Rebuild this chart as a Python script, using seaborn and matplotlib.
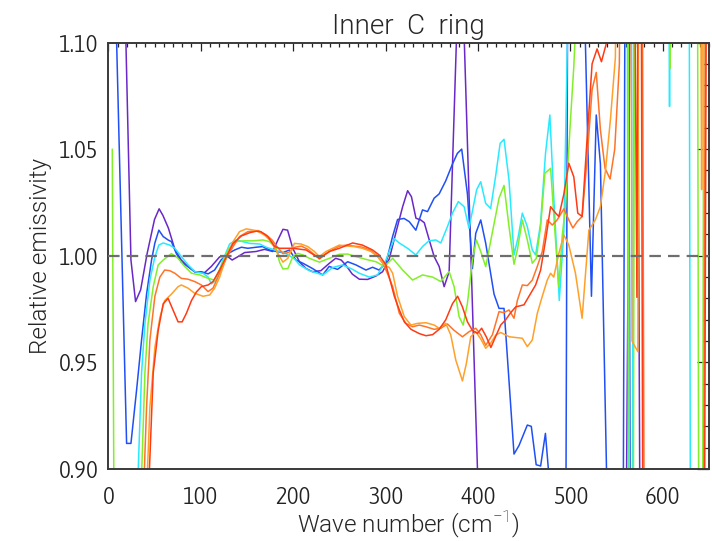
import numpy as np
import pandas as pd
import matplotlib
matplotlib.use("Agg")
import matplotlib.pyplot as plt
from matplotlib.ticker import MultipleLocator, FormatStrFormatter
import seaborn as sns

# ---- spectra: relative emissivity vs wave number (cm^-1) ----
purple_x = [0, 18, 24.5, 29.5, 35, 42, 50, 55, 59, 65, 72, 79, 86, 93.5, 104, 111.5, 120.5, 128, 134, 140,
            147.5, 160, 169, 178, 183.5, 189, 194, 199.6, 207, 214, 221, 230, 239, 246, 252, 257, 264, 271.6,
            280.6, 289.6, 296.8, 304, 311, 318.5, 323.9, 328, 332.9, 338, 341.9, 347.3, 352.6, 358, 363.4,
            368.8, 381, 403, 560, 566, 572, 575.5, 650]
purple_y = [1.30, 1.12, 0.998, 0.9785, 0.984, 1.001, 1.017, 1.022, 1.019, 1.013, 1.003, 0.998, 0.995, 0.9925,
            0.992, 0.995, 0.9995, 1.000, 0.998, 0.9995, 1.0015, 1.002, 1.003, 1.002, 1.0074, 1.0124, 1.012,
            1.0035, 0.997, 0.994, 0.9925, 0.993, 0.9964, 0.9988, 0.998, 0.9956, 0.9914, 0.989, 0.9889, 0.9905,
            0.9925, 0.9985, 1.0105, 1.023, 1.0305, 1.0277, 1.0176, 1.0168, 1.0155, 1.0074, 0.9996, 0.995,
            0.9855, 0.9925, 1.16, 0.85, 0.85, 1.2, 1.2, 0.85, 0.85]

blue_x = [0, 5, 19.8, 24.5, 30.6, 36, 41.4, 46.8, 50.4, 54.7, 59.4, 64.7, 68.3, 73.7, 79, 86, 93.5, 100.7, 108,
          115, 122, 129.5, 136.7, 144, 151, 160, 167, 174.5, 181.7, 189, 196, 203, 210.5, 221, 232, 239, 248,
          259, 268, 278.8, 286, 293, 300.4, 307.6, 313, 320, 325.6, 332.8, 340, 345.4, 352.6, 358, 365, 372.4,
          377.7, 382.4, 388.6, 394, 397.6, 403, 408.4, 417.4, 422.8, 428.2, 431.8, 439, 444.4, 453.4, 457.7,
          463, 467.8, 473, 480, 495, 498, 508, 522.8, 528, 532.5, 540, 557, 560, 562, 565, 650]
blue_y = [1.30, 1.17, 0.912, 0.912, 0.937, 0.9605, 0.982, 0.998, 1.006, 1.012, 1.009, 1.0074, 1.0066, 1.001,
          0.997, 0.995, 0.9925, 0.9925, 0.9915, 0.9933, 0.998, 1.001, 1.0027, 1.004, 1.0035, 1.004, 1.0043,
          1.0027, 1.002, 1.0015, 1.0027, 0.998, 0.9965, 0.994, 0.991, 0.995, 0.9936, 0.9972, 0.9957, 0.9933,
          0.9946, 0.9933, 0.9965, 1.009, 1.017, 1.0175, 1.016, 1.012, 1.0215, 1.0207, 1.027, 1.029, 1.035,
          1.043, 1.048, 1.050, 1.029, 0.994, 1.0105, 1.0168, 1.0058, 0.982, 0.9753, 0.9753, 0.9527, 0.907,
          0.911, 0.9206, 0.920, 0.902, 0.9014, 0.9167, 0.88, 0.86, 1.25, 1.25, 0.981, 1.066, 1.043, 0.88,
          0.85, 1.25, 1.25, 0.85, 0.85]

cyan_x = [0, 30, 36, 39.6, 45, 50.4, 54.7, 59.4, 66.5, 72, 79, 86.3, 93.5, 102.5, 108, 111.5, 117, 124, 131.3,
          138.5, 145.7, 152.9, 163.7, 170.9, 178, 185.3, 192.5, 201.5, 207, 217.7, 232, 243, 253.6, 264.4,
          271.6, 282.4, 291.4, 300.4, 309.4, 314.8, 323.8, 332.8, 340, 347, 354.4, 359.8, 367, 372.4, 378.8,
          385, 390.3, 398.6, 403, 408.3, 413.7, 419, 424, 428.2, 433.6, 439, 443.6, 448, 453.4, 458.8, 462.4,
          467.7, 473.1, 477.8, 482, 488, 493, 498, 505, 561, 563, 567, 569, 605, 607.3, 609.5, 628, 630, 650]
cyan_y = [0.80, 0.87, 0.945, 0.968, 0.9886, 0.9995, 1.005, 1.006, 1.005, 1.0035, 0.9996, 0.9957, 0.9926,
          0.9918, 0.990, 0.9868, 0.9886, 0.998, 1.0055, 1.0074, 1.0066, 1.0058, 1.0055, 1.004, 1.003, 1.002,
          1.001, 0.9985, 0.9957, 0.993, 0.991, 0.9945, 0.9957, 0.9936, 0.9918, 0.990, 0.991, 0.998, 1.008,
          1.006, 1.0035, 1.0004, 1.0043, 1.007, 1.0074, 1.006, 1.0137, 1.020, 1.0254, 1.023, 1.0129, 1.031,
          1.0347, 1.0246, 1.0222, 1.037, 1.0527, 1.0546, 1.0355, 1.0004, 1.009, 1.020, 1.0137, 1.0027,
          1.0004, 1.015, 1.048, 1.066, 1.0277, 0.979, 1.012, 1.13, 1.25, 1.25, 0.85, 0.85, 1.25, 1.25, 1.070,
          1.25, 1.25, 0.85, 0.85]

green_x = [4.3, 7, 31, 39.6, 43, 48.6, 54, 59.4, 68.3, 75.5, 82.7, 90, 99, 108, 115, 122, 129.5, 136.7, 147.5,
           156.5, 167.3, 174.5, 181.7, 185.3, 188.9, 194.3, 199.7, 205, 210.5, 217.6, 228.4, 239.2, 250, 259,
           268, 278.8, 289.6, 298.7, 307.7, 318.5, 329.3, 340, 350.9, 359.8, 368.8, 374.2, 379.6, 384, 388.6,
           394, 398.3, 403, 408.4, 417.4, 422.8, 428.2, 433.6, 439, 442.6, 448, 453.4, 458.8, 463.1, 467.8,
           472.4, 478.6, 482.9, 487.5, 491.1, 494.7, 500.1, 503.7, 508, 512, 562, 564, 568, 570, 606, 608, 610,
           637, 639, 643, 645, 650]
green_y = [1.05, 0.80, 0.83, 0.945, 0.968, 0.9855, 0.9957, 0.998, 1.001, 0.9988, 0.995, 0.9918, 0.991, 0.9894,
           0.9886, 0.995, 1.0027, 1.0066, 1.007, 1.007, 1.0074, 1.0066, 1.0035, 0.997, 0.9938, 0.994, 0.9996,
           1.0011, 1.0004, 0.9988, 0.997, 0.9988, 1.0007, 1.0008, 0.9996, 0.9983, 0.9972, 0.995, 0.9988,
           0.9933, 0.9886, 0.991, 0.990, 0.9879, 0.9926, 0.9855, 0.9714, 0.9675, 0.9777, 0.998, 1.0074, 1.002,
           0.9949, 1.015, 1.027, 1.033, 1.0137, 0.996, 1.0027, 1.0168, 1.0074, 0.9965, 0.9988, 1.0137, 1.0387,
           1.041, 1.0137, 0.9855, 1.009, 1.023, 1.0636, 1.0887, 1.13, 1.25, 1.25, 0.85, 0.85, 1.25, 1.25,
           1.088, 1.25, 1.25, 0.85, 0.85, 1.25, 1.25]

darkorange_x = [0, 35, 41.4, 45, 50.4, 55.8, 61, 66.5, 72, 79, 86.3, 93.5, 100.7, 108, 113.3, 120.5, 127.7,
                135, 142, 151, 162, 170, 177, 183, 189, 195, 202, 209, 216, 223, 228.5, 236, 243, 250, 258,
                266, 275, 284, 291, 297, 302, 307.7, 314.9, 322, 329.3, 336.5, 343.7, 352.6, 359.8, 367,
                374.2, 383.2, 390.4, 397.6, 403, 408.4, 415.6, 422.8, 428, 433.6, 439, 442.6, 448, 453.4,
                458.8, 464.2, 469.6, 475, 480.4, 485.7, 493, 498.3, 502.7, 507.3, 512.7, 518, 523.5, 528,
                532.5, 537.5, 543, 548, 553, 556, 577, 580, 644, 647, 650]
darkorange_y = [0.80, 0.85, 0.929, 0.9605, 0.981, 0.990, 0.9933, 0.993, 0.9918, 0.9894, 0.989, 0.9879, 0.9863,
                0.9832, 0.9848, 0.9918, 0.9988, 1.0043, 1.009, 1.0113, 1.0118, 1.010, 1.0075, 1.004, 1.001,
                1.0015, 1.004, 1.0045, 1.003, 1.0005, 0.9985, 1.001, 1.003, 1.0045, 1.005, 1.0045, 1.004,
                1.0025, 1.000, 0.9965, 0.9918, 0.9855, 0.973, 0.9683, 0.9667, 0.9675, 0.9667, 0.9655, 0.966,
                0.968, 0.965, 0.962, 0.9644, 0.966, 0.963, 0.958, 0.9629, 0.9738, 0.9733, 0.9746, 0.9707,
                0.979, 0.9863, 0.986, 0.9886, 0.995, 1.002, 1.0168, 1.0144, 1.0168, 1.022, 1.0168, 1.013,
                1.016, 1.0184, 1.045, 1.078, 1.086, 1.059, 1.041, 1.036, 1.050, 1.09, 1.25, 1.25, 0.85, 0.85,
                1.25, 1.25]

lightorange_x = [0, 38, 45, 50.4, 55.8, 61, 68.3, 75.5, 79, 86.3, 93.5, 102.5, 109.7, 115, 120.5, 127.7, 135,
                 142, 149.3, 160, 169, 176.3, 183.5, 188.9, 194.3, 201.4, 208.6, 215.8, 223, 228.4, 235.6,
                 242.8, 250, 257, 266, 275, 284.2, 291.4, 298.6, 304, 307.7, 313, 320.3, 327.5, 334.7, 343.7,
                 352.6, 358, 365.2, 370.6, 376, 383.2, 387.5, 392.2, 397.6, 403, 408.4, 413.8, 419.2, 424.6,
                 434, 448, 453.4, 458.8, 464.2, 469.6, 475, 478.6, 482, 487.5, 493, 498.3, 505.5, 512.7, 520,
                 527, 532.5, 538, 543.3, 548.7, 552, 565, 566.7, 573, 574.5, 640, 642, 644, 650]
lightorange_y = [0.80, 0.85, 0.929, 0.957, 0.971, 0.979, 0.982, 0.9855, 0.9863, 0.9848, 0.9824, 0.981, 0.9816,
                 0.9848, 0.990, 0.9995, 1.0066, 1.0113, 1.0126, 1.0118, 1.0097, 1.0066, 1.0011, 0.997, 0.9988,
                 1.0058, 1.0055, 1.0043, 1.002, 0.9996, 1.002, 1.0035, 1.005, 1.0046, 1.0043, 1.0035, 1.002,
                 0.9996, 0.9957, 0.9945, 0.9918, 0.981, 0.9714, 0.9675, 0.9683, 0.9686, 0.9675, 0.966, 0.9683,
                 0.9628, 0.9511, 0.9413, 0.9496, 0.962, 0.9644, 0.961, 0.9566, 0.959, 0.9628, 0.964, 0.962,
                 0.9613, 0.9574, 0.9605, 0.973, 0.981, 0.9886, 0.9918, 0.990, 1.0011, 1.0097, 1.005, 0.9918,
                 0.9707, 1.012, 1.0168, 1.023, 1.040, 1.0637, 1.093, 1.25, 1.25, 0.960, 0.955, 1.25, 1.25,
                 1.031, 1.25, 1.25]

red_x = [0, 40, 48.6, 54, 59.4, 64.7, 70, 75.5, 79.9, 84.5, 90, 95.3, 100.7, 108, 113.3, 120.5, 127.7, 135,
         144, 153, 160, 165, 172.7, 180, 185.3, 199.7, 214, 228.4, 239.2, 250, 264.4, 275, 286, 293, 300.4,
         304, 309.5, 314.9, 320.3, 327.5, 336.5, 343.7, 350.9, 358, 365.2, 372.4, 378, 383.2, 388.6, 394,
         399.4, 404, 409, 414, 419, 424.6, 430, 435.4, 440.8, 449.8, 455.2, 462.4, 467.8, 473.2, 478.6, 484,
         487.5, 493, 498.3, 503.7, 508, 512.7, 518, 523.5, 528.9, 533.6, 538.6, 545, 568, 572, 574, 576,
         578.5, 645, 648]
red_y = [0.80, 0.85, 0.945, 0.965, 0.9775, 0.980, 0.9746, 0.969, 0.969, 0.973, 0.979, 0.983, 0.9855, 0.9863,
         0.9879, 0.9933, 0.9995, 1.0058, 1.0093, 1.0108, 1.0115, 1.0113, 1.009, 1.0043, 1.0035, 1.0035,
         1.0027, 0.9988, 1.002, 1.0035, 1.006, 1.005, 1.0027, 1.0004, 0.9957, 0.990, 0.981, 0.9746, 0.969,
         0.9655, 0.9635, 0.9625, 0.963, 0.9655, 0.970, 0.9775, 0.981, 0.976, 0.969, 0.965, 0.9636, 0.966,
         0.962, 0.957, 0.962, 0.9675, 0.970, 0.9733, 0.976, 0.977, 0.981, 0.9863, 0.9933, 1.0074, 1.023,
         1.020, 1.0184, 1.029, 1.0434, 1.037, 1.020, 1.0184, 1.0543, 1.090, 1.097, 1.091, 1.099, 1.25, 1.25,
         0.9805, 1.25, 1.25, 0.85, 0.85, 1.25]

series = {
    "purple": (purple_x, purple_y),
    "blue": (blue_x, blue_y),
    "cyan": (cyan_x, cyan_y),
    "green": (green_x, green_y),
    "darkorange": (darkorange_x, darkorange_y),
    "lightorange": (lightorange_x, lightorange_y),
    "red": (red_x, red_y),
}
colors = {
    "purple": "#6a28c8",
    "blue": "#2050f5",
    "cyan": "#28eaff",
    "green": "#82f028",
    "darkorange": "#ff7428",
    "lightorange": "#ffa028",
    "red": "#ff3a14",
}

frames = []
for name, (xs, ys) in series.items():
    frames.append(pd.DataFrame({"wavenumber": xs, "emissivity": ys, "series": name}))
df = pd.concat(frames, ignore_index=True)

# ---- styling ----
sns.set_theme(style="white")
plt.rcParams["font.family"] = ["Asap Condensed", "DejaVu Sans"]
plt.rcParams["font.weight"] = 300
plt.rcParams["font.stretch"] = "condensed"
plt.rcParams["mathtext.fontset"] = "custom"
plt.rcParams["mathtext.rm"] = "Roboto:light"
label_font = dict(family=["Roboto", "DejaVu Sans"], weight=300, stretch="normal")

fig = plt.figure(figsize=(7.12, 5.41), dpi=100)
ax = fig.add_axes([108.3 / 712, 1 - 469 / 541, (709 - 108.3) / 712, (469 - 42.5) / 541])

sns.lineplot(data=df, x="wavenumber", y="emissivity", hue="series", units="series",
             palette=colors, estimator=None, sort=False, legend=False, linewidth=1.1, ax=ax)

ax.axhline(1.0, color="#6e6e6e", linewidth=1.6, dashes=(5.2, 3.2), zorder=5)

ax.set_xlim(0, 650)
ax.set_ylim(0.90, 1.10)
ax.xaxis.set_major_locator(MultipleLocator(100))
ax.xaxis.set_minor_locator(MultipleLocator(10))
ax.yaxis.set_major_locator(MultipleLocator(0.05))
ax.yaxis.set_minor_locator(MultipleLocator(0.01))
ax.yaxis.set_major_formatter(FormatStrFormatter("%.2f"))

ax.tick_params(which="both", direction="in", top=True, right=True, colors="#222222", width=0.9)
ax.tick_params(axis="x", which="major", length=6, pad=12, labelsize=18)
ax.tick_params(axis="x", which="minor", length=3)
ax.tick_params(axis="y", which="major", length=9, pad=7, labelsize=18)
ax.tick_params(axis="y", which="minor", length=4.5)
for sp in ax.spines.values():
    sp.set_color("#3a3a3a")
    sp.set_linewidth(1.4)

ax.set_xlabel("Wave number (cm$^{-1}$)", fontsize=17.5, labelpad=0, **label_font)
ax.set_ylabel("Relative emissivity", fontsize=17.5, labelpad=5, **label_font)
ax.set_title("Inner  C  ring", fontsize=20, pad=6, **label_font)

fig.savefig("out.png", dpi=100)
